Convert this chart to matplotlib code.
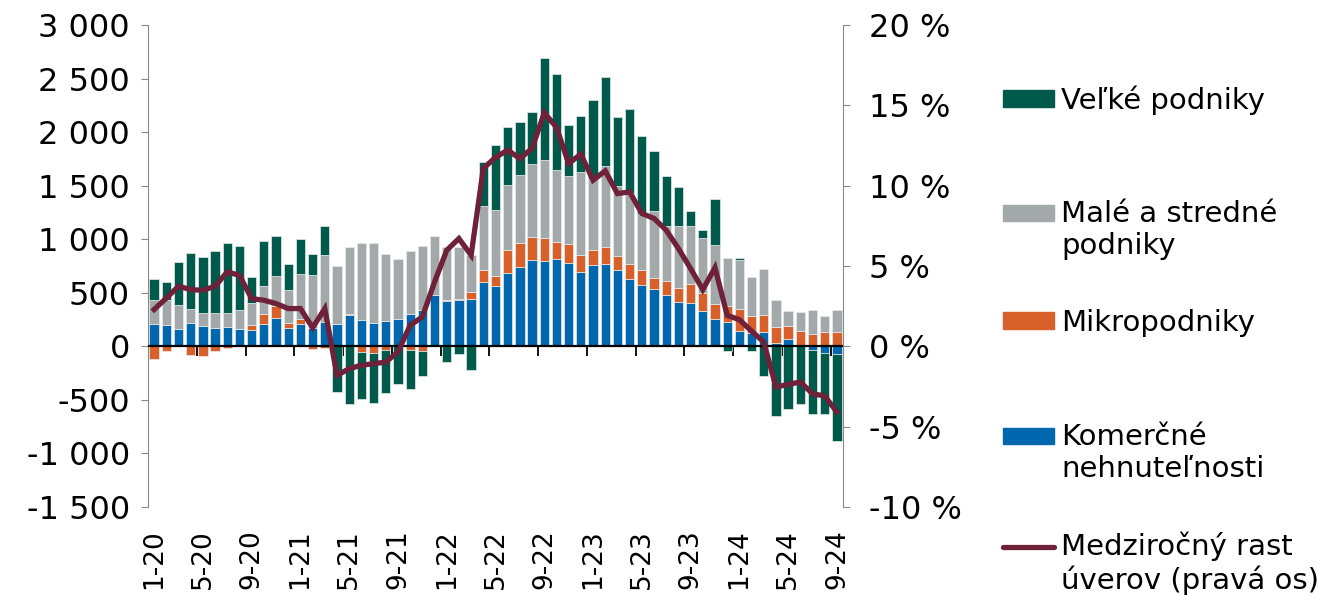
import numpy as np
import matplotlib
matplotlib.use('Agg')
import matplotlib.pyplot as plt
from matplotlib.patches import Patch
from matplotlib.lines import Line2D
from matplotlib.legend_handler import HandlerPatch, HandlerLine2D
from matplotlib.ticker import FuncFormatter, MultipleLocator


# months 1-20 .. 9-24
months = ['%d-%02d' % (m, y) for y in range(20, 25) for m in range(1, 13)][:57]

# mil. EUR, medzirocne zmeny
komercne = [205, 196, 159, 215, 187, 168, 178, 159, 153, 205, 265, 168, 209, 171, 230,
            205, 290, 249, 218, 234, 252, 299, 336, 477, 423, 433, 442, 601, 564, 685,
            741, 807, 801, 813, 782, 698, 757, 766, 713, 629, 576, 533, 483, 414, 405,
            330, 255, 227, 140, 121, 134, 28, 65, 0, -37, -59, -68]
mikro = [-115, -44, 0, -84, -87, -44, -16, 5, 43, 94, 109, 50, 43, -28, -15,
         0, 12, -56, -65, -37, 0, -31, -44, 0, 10, 13, 63, 109, 93, 212,
         225, 212, 211, 162, 171, 159, 143, 162, 134, 137, 140, 109, 128, 131, 178,
         168, 144, 147, 209, 162, 156, 156, 125, 140, 115, 134, 131]
male_stredne = [225, 234, 231, 131, 121, 140, 133, 175, 206, 265, 283, 312, 424, 493, 620,
                543, 623, 717, 748, 626, 564, 595, 599, 551, 495, 482, 345, 602, 620, 605,
                635, 682, 723, 670, 636, 769, 660, 760, 648, 661, 524, 620, 510, 576, 538,
                517, 545, 448, 458, 368, 430, 249, 143, 184, 228, 153, 212]
velke = [196, 175, 395, 523, 524, 586, 655, 596, 246, 424, 377, 239, 324, 196, 271,
         -427, -536, -433, -465, -396, -349, -365, -230, 0, -146, -69, -218, 411, 598, 548,
         492, 483, 960, 897, 473, 521, 739, 823, 642, 785, 720, 563, 465, 365, 147,
         75, 427, -47, 18, -47, -278, -654, -583, -536, -592, -570, -813]
# medzirocny rast uverov, %
rast = [2.29, 3.0, 3.74, 3.53, 3.49, 3.74, 4.63, 4.42, 2.97, 2.87, 2.66, 2.35, 2.35, 1.16, 2.35,
        -1.81, -1.39, -1.18, -1.08, -0.98, -0.35, 1.31, 1.83, 4.0, 5.98, 6.71, 5.67, 11.07, 11.76, 12.21,
        11.69, 12.32, 14.54, 13.63, 11.38, 11.96, 10.34, 10.92, 9.51, 9.61, 8.27, 7.96, 7.23, 6.09, 4.84,
        3.53, 4.90, 1.93, 1.66, 0.95, 0.27, -2.53, -2.37, -2.22, -2.95, -3.09, -4.09]

series = [
    ('Komerčné\nnehnuteľnosti', komercne, '#0066AD'),
    ('Mikropodniky', mikro, '#D8602A'),
    ('Malé a stredné\npodniky', male_stredne, '#A3A8AB'),
    ('Veľké podniky', velke, '#005A4B'),
]
line_label = 'Medziročný rast\núverov (pravá os)'
line_color = '#6E2139'


# legend handles that sit next to the first line of a two-line label
class TopPatch(HandlerPatch):
    def __init__(self, shift=0.0, **kw):
        super().__init__(**kw)
        self.shift = shift

    def create_artists(self, legend, orig_handle, xdescent, ydescent, width, height, fontsize, trans):
        return super().create_artists(legend, orig_handle, xdescent, ydescent - self.shift * fontsize,
                                      width, height, fontsize, trans)


class TopLine(HandlerLine2D):
    def __init__(self, shift=0.0, **kw):
        super().__init__(**kw)
        self.shift = shift

    def create_artists(self, legend, orig_handle, xdescent, ydescent, width, height, fontsize, trans):
        return super().create_artists(legend, orig_handle, xdescent, ydescent - 2 * self.shift * fontsize,
                                      width, height, fontsize, trans)


plt.rcParams['font.family'] = ['DejaVu Sans']
plt.rcParams['axes.unicode_minus'] = False

fig = plt.figure(figsize=(13.29, 5.96), dpi=100)
ax = fig.add_axes([148 / 1329, 1 - 507 / 596, (843 - 148) / 1329, (507 - 25) / 596])

x = np.arange(len(months))
pos_bottom = np.zeros(len(x))
neg_bottom = np.zeros(len(x))
for label, vals, color in series:
    v = np.array(vals, dtype=float)
    bottom = np.where(v >= 0, pos_bottom, neg_bottom)
    ax.bar(x, v, 0.76, bottom=bottom, color=color, edgecolor='#e6ecea', linewidth=0.5, zorder=2)
    pos_bottom += np.where(v >= 0, v, 0)
    neg_bottom += np.where(v < 0, v, 0)

ax.axhline(0, color='black', lw=1.6, zorder=3)
ax.set_xlim(-0.5, len(x) - 0.5)
ax.set_ylim(-1500, 3000)
ax.yaxis.set_major_locator(MultipleLocator(500))
ax.yaxis.set_major_formatter(FuncFormatter(lambda v, p: '{:,.0f}'.format(v).replace(',', ' ')))
ax.tick_params(axis='y', labelsize=23, length=5, color='#888888', pad=8)
ax.set_xticks(x[::4])
ax.set_xticklabels(months[::4], rotation=90, fontsize=19)
ax.tick_params(axis='x', length=0, pad=16)
for s in ['top', 'bottom', 'right']:
    ax.spines[s].set_visible(False)
ax.spines['left'].set_color('#888888')

# tick marks on the zero line between categories
sec = ax.secondary_xaxis(1500 / 4500)
sec.set_xticks(np.arange(3.5, len(x), 4))
sec.set_xticklabels([])
sec.tick_params(length=7, width=1.3, color='black')
for s in sec.spines.values():
    s.set_visible(False)

ax2 = ax.twinx()
ax2.plot(x, rast, color=line_color, lw=3.8, solid_joinstyle='miter', zorder=5)
ax2.set_ylim(-10, 20)
ax2.yaxis.set_major_locator(MultipleLocator(5))
ax2.yaxis.set_major_formatter(FuncFormatter(lambda v, p: '%d %%' % v))
ax2.tick_params(axis='y', labelsize=23, length=5, color='#888888', pad=14)
for s in ['top', 'bottom', 'left']:
    ax2.spines[s].set_visible(False)
ax2.spines['right'].set_color('#888888')

# legend, one entry at a time (uneven spacing as in the original)
entries = [
    (Patch(color=series[3][2]), series[3][0], 100, TopPatch(0)),
    (Patch(color=series[2][2]), series[2][0], 230, TopPatch(0.6)),
    (Patch(color=series[1][2]), series[1][0], 323, TopPatch(0)),
    (Patch(color=series[0][2]), series[0][0], 453, TopPatch(0.6)),
    (Line2D([], [], color=line_color, lw=3.8, solid_capstyle='round'), line_label, 563, TopLine(0.6)),
]
for h, lab, ypx, handler in entries:
    fig.legend([h], [lab], loc='center left', bbox_to_anchor=(1003 / 1329, 1 - ypx / 596),
               frameon=False, fontsize=21, handlelength=1.75, handleheight=0.5,
               handletextpad=0.25, borderpad=0, borderaxespad=0,
               handler_map={type(h): handler})

fig.savefig('out.png', dpi=100)
